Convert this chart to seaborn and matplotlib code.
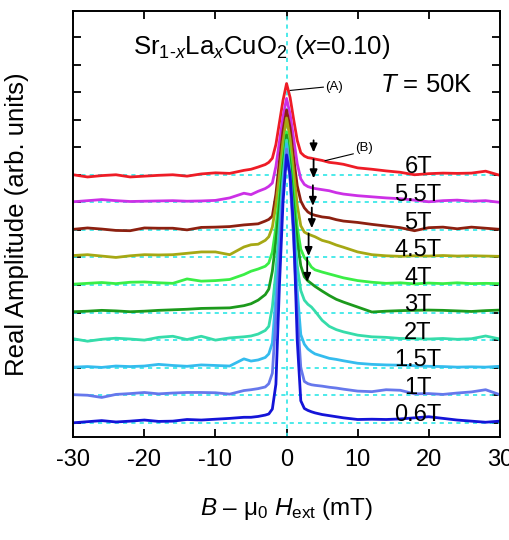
import matplotlib
matplotlib.use('Agg')
import numpy as np
import pandas as pd
import matplotlib.pyplot as plt
import seaborn as sns

b_field = [-30, -28, -26, -24, -22, -20, -18, -16, -14, -12, -10, -8, -6, -5, -4, -3, -2.5, -2,
           -1.5, -1, -0.5, 0, 0.5, 1, 1.5, 2, 2.5, 3, 3.5, 4, 5, 6, 7, 8, 10, 12, 14, 16, 18,
           20, 22, 24, 26, 28, 30]

# amplitude of each spectrum above its own baseline (arb. units)
amp_06T = [0.0, 0.04, 0.08, 0.03, 0.06, 0.1, 0.05, 0.06, 0.12, 0.1, 0.13, 0.16, 0.2, 0.2, 0.23,
           0.28, 0.32, 0.5, 1.4, 5.0, 8.0, 9.72, 9.0, 7.0, 3.0, 0.8, 0.52, 0.45, 0.4, 0.36, 0.3,
           0.26, 0.22, 0.18, 0.12, 0.13, 0.12, 0.14, 0.18, 0.22, 0.16, 0.1, 0.06, 0.02, 0.06]
amp_1T = [0.02, 0.0, -0.08, 0.03, 0.06, 0.1, 0.05, 0.08, 0.1, 0.1, 0.09, 0.04, 0.17, 0.2, 0.24,
          0.3, 0.42, 0.8, 2.8, 5.2, 7.4, 8.93, 7.8, 5.6, 3.0, 1.0, 0.5, 0.42, 0.38, 0.36, 0.33,
          0.29, 0.26, 0.22, 0.15, 0.13, 0.2, 0.18, 0.05, 0.06, 0.03, 0.08, 0.12, 0.2, 0.02]
amp_15T = [0.02, 0.04, 0.01, 0.06, 0.04, 0.06, 0.12, 0.08, 0.05, 0.1, 0.08, 0.06, 0.32, 0.24,
           0.28, 0.37, 0.5, 0.9, 2.6, 4.7, 6.6, 8.12, 6.9, 5.0, 2.8, 1.2, 0.85, 0.68, 0.58, 0.5,
           0.42, 0.34, 0.3, 0.25, 0.16, 0.12, 0.1, 0.09, 0.07, 0.05, 0.04, 0.02, 0.03, 0.02, 0.05]
amp_2T = [0.05, -0.04, 0.03, 0.07, 0.04, 0.0, 0.1, 0.14, 0.02, 0.14, 0.0, 0.08, 0.12, 0.15, 0.22,
          0.35, 0.5, 1.2, 2.5, 4.2, 5.9, 7.26, 6.0, 4.3, 2.7, 1.8, 1.45, 1.3, 1.2, 1.05, 0.72,
          0.5, 0.38, 0.3, 0.18, 0.12, 0.1, 0.06, 0.05, 0.04, 0.06, 0.03, 0.05, 0.15, 0.04]
amp_3T = [0.03, 0.05, 0.08, 0.06, 0.03, 0.05, 0.08, 0.1, 0.12, 0.15, 0.16, 0.17, 0.25, 0.32,
          0.45, 0.65, 0.85, 1.5, 2.6, 3.9, 5.3, 6.44, 5.4, 3.9, 2.6, 1.7, 1.3, 1.15, 1.05, 0.95,
          0.78, 0.62, 0.48, 0.38, 0.2, 0.02, 0.05, 0.07, 0.08, 0.09, 0.08, 0.06, 0.04, 0.07, 0.09]
amp_4T = [0.03, 0.06, 0.09, 0.05, 0.1, 0.11, 0.08, 0.06, 0.22, 0.14, 0.16, 0.2, 0.38, 0.5, 0.58,
          0.68, 0.8, 1.2, 2.1, 3.3, 4.6, 5.56, 4.7, 3.4, 2.1, 1.3, 1.0, 0.85, 0.65, 0.55, 0.47,
          0.4, 0.33, 0.26, 0.16, 0.1, 0.06, 0.08, 0.04, 0.07, 0.05, 0.08, 0.05, 0.06, 0.05]
amp_45T = [0.07, 0.1, 0.05, 0.0, 0.06, 0.1, 0.09, 0.1, 0.15, 0.2, 0.2, 0.1, 0.38, 0.46, 0.48,
           0.62, 0.75, 1.1, 1.9, 3.0, 4.2, 5.06, 4.3, 3.1, 1.9, 1.15, 0.92, 0.85, 0.8, 0.75,
           0.62, 0.55, 0.45, 0.37, 0.2, 0.1, 0.06, 0.04, 0.06, 0.05, 0.07, 0.05, 0.06, 0.05, 0.04]
amp_5T = [0.02, 0.07, 0.03, -0.02, -0.03, 0.07, 0.06, 0.06, 0.0, 0.09, 0.1, 0.12, 0.18, 0.2,
          0.22, 0.32, 0.38, 0.5, 1.3, 2.5, 3.6, 4.35, 3.7, 2.6, 1.6, 1.05, 0.8, 0.65, 0.57,
          0.53, 0.47, 0.44, 0.37, 0.32, 0.27, 0.2, 0.14, 0.08, -0.03, 0.08, 0.1, 0.04, 0.1,
          0.06, 0.02]
amp_55T = [0.02, 0.06, 0.1, 0.06, 0.03, 0.04, 0.05, 0.06, 0.04, 0.05, 0.07, 0.16, 0.33, 0.28,
           0.4, 0.5, 0.58, 0.7, 1.3, 2.2, 3.1, 3.77, 3.2, 2.3, 1.4, 0.85, 0.65, 0.57, 0.53, 0.5,
           0.46, 0.42, 0.35, 0.3, 0.24, 0.2, 0.16, 0.13, 0.08, 0.02, 0.06, 0.08, 0.04, 0.06, 0.0]
amp_6T = [0.0, -0.08, -0.03, 0.0, -0.08, -0.05, -0.02, 0.0, -0.05, 0.03, 0.07, 0.05, 0.16, 0.2,
          0.28, 0.37, 0.45, 0.6, 1.1, 1.9, 2.7, 3.31, 2.8, 2.0, 1.25, 0.8, 0.68, 0.62, 0.6, 0.57,
          0.52, 0.45, 0.42, 0.38, 0.25, 0.2, 0.14, 0.09, 0.0, 0.04, 0.06, 0.05, 0.06, 0.13, -0.02]

fields = ['0.6T', '1T', '1.5T', '2T', '3T', '4T', '4.5T', '5T', '5.5T', '6T']
spectra = [amp_06T, amp_1T, amp_15T, amp_2T, amp_3T, amp_4T, amp_45T, amp_5T, amp_55T, amp_6T]
colors = ['#1414d8', '#6678ec', '#34bcee', '#36dcaa', '#1c9a1c', '#3aee46', '#a6a814',
          '#8c2010', '#cc30e6', '#ee1c26']

# stacked long table, each spectrum shifted up by one unit
rows = []
for i, (lab, amp) in enumerate(zip(fields, spectra)):
    for b, a in zip(b_field, amp):
        rows.append({'B': b, 'amp': a + i, 'field': lab})
df = pd.DataFrame(rows)

sns.set_style('ticks')
plt.rcParams['font.family'] = ['Liberation Sans', 'DejaVu Sans']
plt.rcParams['mathtext.fontset'] = 'custom'
plt.rcParams['mathtext.rm'] = 'Liberation Sans'
plt.rcParams['mathtext.it'] = 'Liberation Sans:italic'
plt.rcParams['mathtext.bf'] = 'Liberation Sans:bold'
plt.rcParams['axes.unicode_minus'] = False
plt.rcParams['text.color'] = 'black'
plt.rcParams['axes.labelcolor'] = 'black'
plt.rcParams['xtick.color'] = 'black'
plt.rcParams['ytick.color'] = 'black'

fig = plt.figure(figsize=(5.09, 5.40), dpi=100)
ax = fig.add_axes([0.144, 0.19, 0.838, 0.789])

cyan = '#2ee6e6'
for i in range(len(fields)):
    ax.axhline(i, color=cyan, ls=(0, (2.5, 2.5)), lw=1.2, zorder=1)
ax.axvline(0, color=cyan, ls=(0, (2.5, 2.5)), lw=1.2, zorder=1)

sns.lineplot(data=df, x='B', y='amp', hue='field', hue_order=fields[::-1],
             palette=dict(zip(fields, colors)), estimator=None, sort=False,
             lw=2.0, legend=False, ax=ax, zorder=2)

for i, lab in enumerate(fields):
    ax.text(18.5, i + 0.05, lab, ha='center', va='baseline', fontsize=17, zorder=5)

ax.text(-3.5, 13.39, 'Sr$_{1\\text{-}x}$La$_x$CuO$_2$ ($x$=0.10)', ha='center',
        va='baseline', fontsize=18.5)
ax.text(19.6, 12.0, '$T$ = 50K', ha='center', va='baseline', fontsize=18.5)

# feature markers
ax.plot([0.5, 5.2], [12.06, 12.18], color='k', lw=0.8)
ax.text(5.4, 12.19, '(A)', ha='left', va='center', fontsize=9.5)
ax.plot([5.4, 9.4], [9.51, 9.76], color='k', lw=0.8)
ax.text(9.7, 9.96, '(B)', ha='left', va='center', fontsize=9.5)

arrow_x = [3.8, 3.8, 3.7, 3.55, 3.1, 2.9]
arrow_top = [10.25, 9.56, 8.62, 7.81, 6.87, 5.99]
arrow_tip = [9.81, 8.87, 7.87, 7.06, 6.05, 5.11]
for x, y0, y1 in zip(arrow_x, arrow_top, arrow_tip):
    ax.annotate('', xy=(x, y1), xytext=(x, y0),
                arrowprops=dict(arrowstyle='-|>,head_length=0.5,head_width=0.22',
                                color='k', lw=1.3, shrinkA=0, shrinkB=0), zorder=6)

ax.set_xlim(-30, 30)
ax.set_ylim(-0.53, 14.93)
ax.set_xticks(range(-30, 31, 10))
ax.set_yticks(range(0, 15))
ax.set_yticklabels([])
ax.tick_params(direction='in', top=True, right=True, length=6, width=1.3,
               labelsize=17, pad=8)
for s in ax.spines.values():
    s.set_linewidth(1.4)
    s.set_color('k')

ax.set_xlabel('$B$ – μ$_0$ $H_{\\mathrm{ext}}$ (mT)', fontsize=17.5, labelpad=18)
ax.set_ylabel('Real Amplitude (arb. units)', fontsize=18.5, labelpad=24)

fig.savefig('out.png', dpi=100)
